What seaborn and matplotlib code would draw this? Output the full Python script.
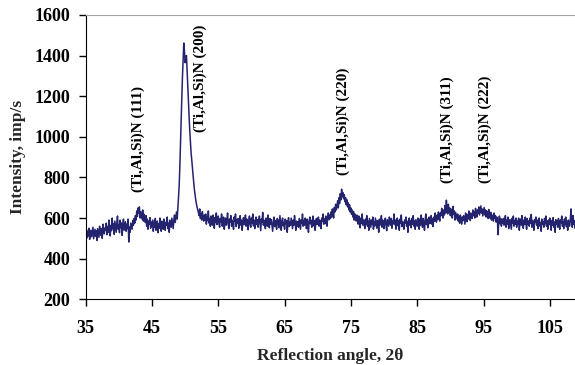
import numpy as np
import pandas as pd
import matplotlib
matplotlib.use("Agg")
import matplotlib.pyplot as plt
import seaborn as sns

# ---- data ----
angle_start, angle_step = 35.0, 0.1
intensity = [
    518, 545, 502, 536, 512, 550, 495, 528, 540, 508,   # 35
    532, 555, 498, 520, 545, 510, 538, 490, 548, 525,   # 36
    505, 560, 530, 515, 548, 500, 570, 535, 522, 552,   # 37
    540, 575, 518, 558, 530, 590, 545, 512, 565, 538,   # 38
    600, 548, 572, 520, 585, 555, 530, 578, 610, 545,   # 39
    565, 528, 590, 552, 575, 515, 568, 595, 540, 560,   # 40
    582, 535, 570, 548, 595, 482, 555, 530, 575, 560,   # 41
    545, 588, 565, 598, 575, 612, 590, 635, 608, 650,   # 42
    625, 655, 600, 632, 612, 595, 640, 585, 618, 600,   # 43
    578, 612, 560, 595, 545, 585, 570, 602, 550, 580,   # 44
    560, 590, 535, 575, 555, 598, 540, 568, 585, 528,   # 45
    572, 550, 600, 562, 535, 585, 570, 545, 595, 558,   # 46
    540, 580, 565, 605, 548, 575, 530, 590, 568, 555,   # 47
    600, 572, 548, 592, 615, 578, 602, 630, 595, 645,   # 48
    700, 760, 850, 960, 1080, 1200, 1300, 1380, 1462, 1420,  # 49
    1365, 1385, 1400, 1330, 1250, 1170, 1100, 1030, 975, 920,  # 50
    886, 845, 810, 775, 740, 715, 690, 670, 655, 640,   # 51
    628, 612, 645, 598, 620, 590, 632, 605, 585, 615,   # 52
    592, 620, 570, 605, 588, 635, 575, 598, 560, 610,   # 53
    585, 565, 615, 590, 550, 602, 578, 625, 568, 595,   # 54
    610, 572, 555, 598, 582, 620, 560, 590, 605, 545,   # 55
    578, 600, 565, 588, 625, 570, 548, 595, 580, 612,   # 56
    560, 590, 572, 545, 605, 585, 620, 558, 592, 575,   # 57
    598, 550, 585, 612, 565, 590, 540, 578, 602, 568,   # 58
    585, 615, 560, 595, 575, 542, 588, 610, 570, 555,   # 59
    600, 575, 620, 562, 590, 548, 582, 605, 568, 592,   # 60
    555, 588, 610, 572, 538, 595, 580, 628, 565, 590,   # 61
    575, 548, 600, 585, 560, 615, 578, 552, 598, 570,   # 62
    592, 565, 535, 580, 605, 558, 588, 572, 545, 598,   # 63
    568, 590, 552, 612, 575, 540, 585, 600, 562, 578,   # 64
    545, 595, 570, 588, 530, 575, 602, 558, 580, 565,   # 65
    600, 572, 548, 590, 565, 612, 578, 540, 585, 560,   # 66
    582, 555, 598, 570, 545, 592, 575, 620, 560, 588,   # 67
    565, 600, 578, 548, 595, 570, 530, 585, 605, 572,   # 68
    590, 555, 578, 610, 562, 588, 540, 575, 598, 568,   # 69
    582, 605, 560, 590, 575, 548, 600, 585, 620, 570,   # 70
    595, 572, 610, 588, 560, 605, 625, 592, 615, 598,   # 71
    630, 605, 645, 620, 600, 652, 630, 668, 640, 660,   # 72
    685, 650, 700, 672, 720, 690, 742, 705, 725, 695,   # 73
    715, 680, 700, 665, 690, 655, 675, 640, 665, 630,   # 74
    650, 618, 640, 605, 632, 590, 620, 600, 585, 615,   # 75
    595, 570, 610, 588, 552, 600, 575, 620, 565, 590,   # 76
    578, 548, 595, 570, 612, 560, 585, 540, 598, 575,   # 77
    555, 590, 568, 605, 545, 580, 562, 600, 575, 550,   # 78
    588, 570, 530, 595, 565, 580, 612, 555, 590, 572,   # 79
    548, 585, 600, 565, 538, 592, 575, 560, 605, 580,   # 80
    565, 598, 550, 585, 572, 620, 568, 590, 545, 578,   # 81
    600, 562, 588, 540, 595, 575, 615, 558, 582, 570,   # 82
    545, 590, 575, 605, 560, 585, 530, 578, 600, 565,   # 83
    588, 552, 598, 570, 612, 560, 585, 545, 592, 575,   # 84
    560, 600, 578, 545, 595, 565, 615, 580, 555, 598,   # 85
    575, 540, 590, 620, 568, 595, 552, 585, 605, 572,   # 86
    590, 612, 570, 598, 558, 605, 585, 625, 595, 580,   # 87
    615, 592, 630, 605, 585, 625, 612, 648, 620, 600,   # 88
    640, 615, 662, 625, 688, 645, 620, 668, 630, 650,   # 89
    612, 645, 625, 600, 658, 618, 635, 590, 628, 610,   # 90
    595, 620, 585, 608, 575, 615, 598, 570, 605, 588,   # 91
    612, 590, 570, 625, 600, 582, 618, 595, 635, 605,   # 92
    588, 625, 610, 598, 640, 612, 630, 600, 648, 620,   # 93
    605, 640, 622, 655, 615, 638, 660, 625, 645, 610,   # 94
    632, 652, 615, 640, 605, 635, 625, 598, 642, 618,   # 95
    600, 628, 590, 615, 605, 585, 625, 598, 612, 580,   # 96
    605, 590, 518, 585, 610, 572, 598, 560, 590, 575,   # 97
    598, 565, 585, 612, 555, 590, 570, 605, 548, 580,   # 98
    592, 568, 545, 598, 575, 610, 560, 588, 570, 600,   # 99
    555, 585, 572, 600, 540, 578, 595, 565, 612, 575,   # 100
    550, 590, 568, 605, 580, 545, 598, 570, 585, 560,   # 101
    600, 575, 618, 555, 588, 570, 540, 592, 578, 605,   # 102
    565, 590, 548, 585, 600, 560, 578, 535, 595, 570,   # 103
    582, 555, 598, 572, 610, 560, 585, 545, 590, 568,   # 104
    600, 575, 540, 588, 565, 602, 555, 580, 530, 592,   # 105
    570, 585, 555, 598, 568, 545, 590, 575, 610, 560,   # 106
    582, 548, 595, 570, 605, 558, 585, 540, 590, 575,   # 107
    560, 598, 645, 580, 555, 612, 570, 588, 550, 578,   # 108
    572,                                                # 109
]
angle = angle_start + angle_step * np.arange(len(intensity))

peak_labels = ["(Ti,Al,Si)N (111)", "(Ti,Al,Si)N (200)", "(Ti,Al,Si)N (220)",
               "(Ti,Al,Si)N (311)", "(Ti,Al,Si)N (222)"]
peak_label_x = [43.0, 52.35, 73.8, 89.6, 95.2]
peak_label_y = [728, 1024, 812, 773, 773]

x_ticks = [35, 45, 55, 65, 75, 85, 95, 105]
y_ticks = [200, 400, 600, 800, 1000, 1200, 1400, 1600]

df = pd.DataFrame({"angle": angle, "intensity": intensity})

# ---- style ----
sns.set_style("ticks")
plt.rcParams["font.family"] = ["Liberation Serif", "DejaVu Serif"]
plt.rcParams["font.weight"] = "bold"

fig = plt.figure(figsize=(5.75, 3.65), dpi=100)
ax = fig.add_axes([0.149, 0.180, 0.851, 0.779])

sns.lineplot(data=df, x="angle", y="intensity", ax=ax, color="#23236e",
             linewidth=1.1, estimator=None, sort=False)

ax.set_xlim(35, 108.8)
ax.set_ylim(200, 1600)
ax.set_xticks(x_ticks)
ax.set_yticks(y_ticks)
ax.tick_params(axis="both", direction="out", length=5, width=1, colors="black",
               labelsize=13)
ax.tick_params(axis="y", pad=6)
ax.tick_params(axis="x", pad=10)
for lab in ax.get_xticklabels() + ax.get_yticklabels():
    lab.set_fontweight("bold")

ax.spines["left"].set_color("black")
ax.spines["bottom"].set_color("black")
ax.spines["top"].set_visible(True)
ax.spines["top"].set_color("#a6a6a6")
ax.spines["right"].set_visible(False)

ax.set_xlabel("Reflection angle, 2θ", fontsize=12.5, fontweight="bold")
ax.set_ylabel("Intensity, imp/s", fontsize=12.5, fontweight="bold")
ax.xaxis.set_label_coords(0.5, -0.172)
ax.yaxis.set_label_coords(-0.122, 0.5)

for lbl, lx, ly in zip(peak_labels, peak_label_x, peak_label_y):
    ax.text(lx, ly, lbl, rotation=90, ha="center", va="bottom",
            fontsize=11, fontweight="bold", color="black")

fig.savefig("out.png", dpi=100)
